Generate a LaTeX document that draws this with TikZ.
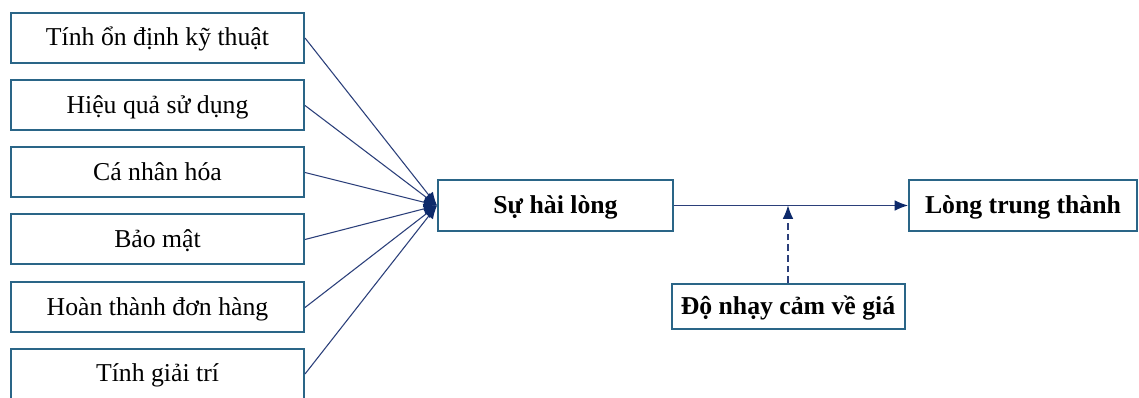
\documentclass[tikz,border=0pt]{standalone}
\usepackage{fontspec}
\setmainfont{Liberation Serif}
\usetikzlibrary{arrows.meta}
\definecolor{boxborder}{HTML}{2A6587}
\definecolor{linecol}{HTML}{2B3F7A}
\definecolor{tipcol}{HTML}{0D2A6B}
\tikzset{
  box/.style={draw=boxborder, line width=1.5pt, fill=white, inner sep=0pt,
    text height=16pt, text depth=4.5pt,
    font=\fontsize{19.3}{23}\selectfont},
  leftbox/.style={box, minimum width=219.75pt, minimum height=37.5pt},
  boldbox/.style={box, font=\fontsize{19.3}{23}\selectfont\bfseries},
  conn/.style={draw=linecol, line width=0.8pt, -{Latex[length=10pt,width=8pt,color=tipcol]}},
}
\begin{document}
\begin{tikzpicture}[x=0.75pt,y=-0.75pt]
\useasboundingbox (0,0) rectangle (1139,398);
\fill[white] (0,0) rectangle (1139,398);
\node[leftbox] (a1) at (157.5,38) {Tính ổn định kỹ thuật};
\node[leftbox] (a2) at (157.5,105.5) {Hiệu quả sử dụng};
\node[leftbox] (a3) at (157.5,172.5) {Cá nhân hóa};
\node[leftbox] (a4) at (157.5,239.5) {Bảo mật};
\node[leftbox] (a5) at (157.5,307.5) {Hoàn thành đơn hàng};
\node[leftbox] (a6) at (157.5,374) {Tính giải trí};
\node[boldbox, minimum width=176.25pt, minimum height=38pt] (shl) at (555.5,205.5) {Sự hài lòng};
\node[boldbox, minimum width=171pt, minimum height=38pt] (ltt) at (1023,205.5) {Lòng trung thành};
\node[boldbox, minimum width=174.75pt, minimum height=33.75pt] (dn) at (788,306.5) {Độ nhạy cảm về giá};
\foreach \n in {a1,a2,a3,a4,a5,a6} \draw[conn] (\n.east) -- (shl.west);
\draw[conn] (shl.east) -- (ltt.west);
\coordinate (mid) at (dn.north |- shl.east);
\draw[conn, dash pattern=on 5pt off 3pt] (dn.north) -- (mid);
\end{tikzpicture}
\end{document}
